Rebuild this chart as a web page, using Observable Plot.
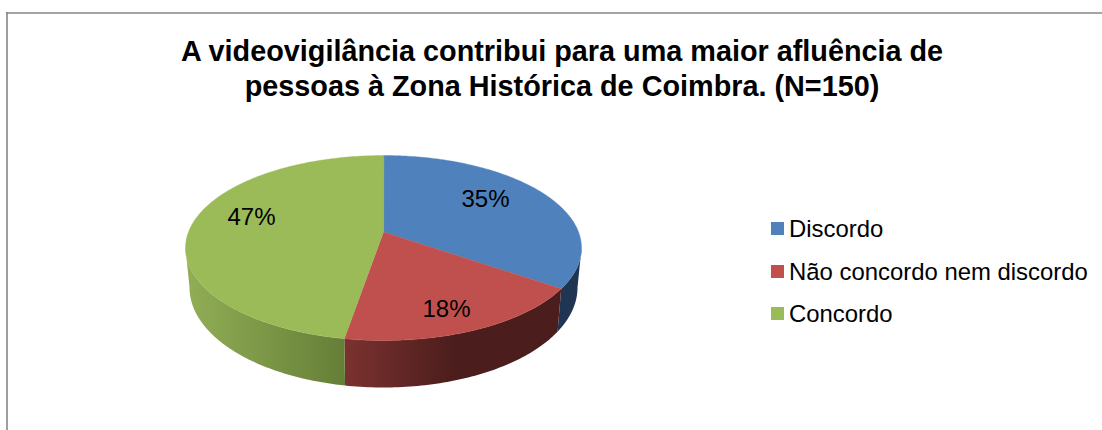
<!DOCTYPE html>
<html lang="pt">
<head>
<meta charset="utf-8">
<script src="https://cdn.jsdelivr.net/npm/d3@7"></script>
<script src="https://cdn.jsdelivr.net/npm/@observablehq/plot@0.6"></script>
<style>
html,body{margin:0;padding:0;background:#fff}
svg{display:block}
</style>
</head>
<body>
<div id="chart"></div>
<script>
// ---- data ----
const titleLines = ["A videovigilância contribui para uma maior afluência de", "pessoas à Zona Histórica de Coimbra. (N=150)"];
const categories = ["Discordo", "Não concordo nem discordo", "Concordo"];
const counts = [52, 27, 71];
const colours = ["#4f81bd", "#c0504d", "#9bbb59"];
const sideStops = [["#1f3552", "#1f3552"], ["#7b3230", "#4b1d1c"], ["#90ad55", "#667f37"]];

// ---- layout ----
const W = 1102, H = 430;
const top_ = {cx: 383, cy: 247.5, rx: 198, ry: 92.5};
const bot_ = {cx: 383, cy: 287, rx: 194, ry: 100};
const tilt = 0.173;
const gradX = [[540, 580], [343, 455], [190, 343]];
const labelX = [485, 446, 251];
const labelY = [199, 309, 217];
const legendX = 771, legendSwatch = 13, legendTextX = 788.5;
const legendY = [222, 265, 307];

const total = d3.sum(counts);
const warp = (e, phi, r = 1) => {
  const u = r * Math.sin(phi), v = -r * Math.cos(phi);
  const d = 1 - tilt * v;
  return [e.cx + e.rx * u * Math.sqrt(1 - tilt * tilt) / d, e.cy + e.ry * (v - tilt) / d];
};
const arcs = [];
let acc = 0;
counts.forEach((c, i) => {
  arcs.push({i, a0: acc / total * 2 * Math.PI, a1: (acc + c) / total * 2 * Math.PI});
  acc += c;
});

// the wall is only visible between the leftmost and rightmost points of the rim
const rimRight = Math.acos(-tilt), rimLeft = 2 * Math.PI - rimRight;

const sideRows = [], topRows = [];
arcs.forEach(({i, a0, a1}) => {
  const n = Math.round((a1 - a0) * 60);
  const at = k => a0 + (a1 - a0) * k / n;
  const face = [warp(top_, 0, 0)];
  for (let k = 0; k <= n; k++) face.push(warp(top_, at(k)));
  face.forEach(([x, y]) => topRows.push({id: i, x, y, fill: colours[i]}));

  const s0 = Math.max(a0, rimRight), s1 = Math.min(a1, rimLeft);
  const side = [];
  const sideAt = k => s0 + (s1 - s0) * k / n;
  for (let k = 0; k <= n; k++) side.push(warp(top_, sideAt(k)));
  for (let k = n; k >= 0; k--) side.push(warp(bot_, sideAt(k)));
  side.forEach(([x, y]) => sideRows.push({id: i, x, y, fill: `url(#side${i})`}));
});

const pct = c => Math.round(c / total * 100) + "%";
const font = "Liberation Sans, Arial, sans-serif";

// gradient definitions for the shaded walls, placed through the x scale
const gradients = (index, scales) => {
  const ns = "http://www.w3.org/2000/svg";
  const defs = document.createElementNS(ns, "defs");
  sideStops.forEach((stops, i) => {
    const g = document.createElementNS(ns, "linearGradient");
    g.setAttribute("id", `side${i}`);
    g.setAttribute("gradientUnits", "userSpaceOnUse");
    g.setAttribute("x1", scales.x(gradX[i][0]));
    g.setAttribute("x2", scales.x(gradX[i][1]));
    g.setAttribute("y1", 0);
    g.setAttribute("y2", 0);
    stops.forEach((c, k) => {
      const s = document.createElementNS(ns, "stop");
      s.setAttribute("offset", k);
      s.setAttribute("stop-color", c);
      g.append(s);
    });
    defs.append(g);
  });
  return defs;
};

const plot = Plot.plot({
  width: W, height: H,
  margin: 0,
  x: {domain: [0, W], range: [0, W], axis: null},
  y: {domain: [0, H], range: [0, H], axis: null},
  color: {type: "identity"},
  style: {fontFamily: font, background: "#fff"},
  marks: [
    gradients,
    Plot.ruleX([6.5], {y1: 12, y2: H, stroke: "#868686", strokeWidth: 1.6}),
    Plot.ruleY([12.5], {x1: 6, x2: W, stroke: "#868686", strokeWidth: 1.6}),
    Plot.line(sideRows, {x: "x", y: "y", z: "id", fill: "fill", stroke: "none", curve: "linear-closed"}),
    Plot.line(topRows, {x: "x", y: "y", z: "id", fill: "fill", stroke: "fill", strokeWidth: 0.4, curve: "linear-closed"}),
    Plot.text(categories.map((c, i) => i), {x: i => labelX[i], y: i => labelY[i], text: i => pct(counts[i]), fontSize: 24, fill: "#000", textAnchor: "middle", lineAnchor: "middle"}),
    Plot.text(titleLines, {x: 561.5, y: (d, i) => [51, 86][i], text: d => d, fontSize: 28.8, fontWeight: "bold", fill: "#000", textAnchor: "middle", lineAnchor: "middle"}),
    Plot.rect(categories, {x1: legendX, x2: legendX + legendSwatch, y1: (d, i) => legendY[i], y2: (d, i) => legendY[i] + legendSwatch, fill: (d, i) => colours[i]}),
    Plot.text(categories, {x: legendTextX, y: (d, i) => legendY[i] + 6.5, text: d => d, fontSize: 23.9, fill: "#000", textAnchor: "start", lineAnchor: "middle"})
  ]
});
document.getElementById("chart").append(plot);
</script>
</body>
</html>
